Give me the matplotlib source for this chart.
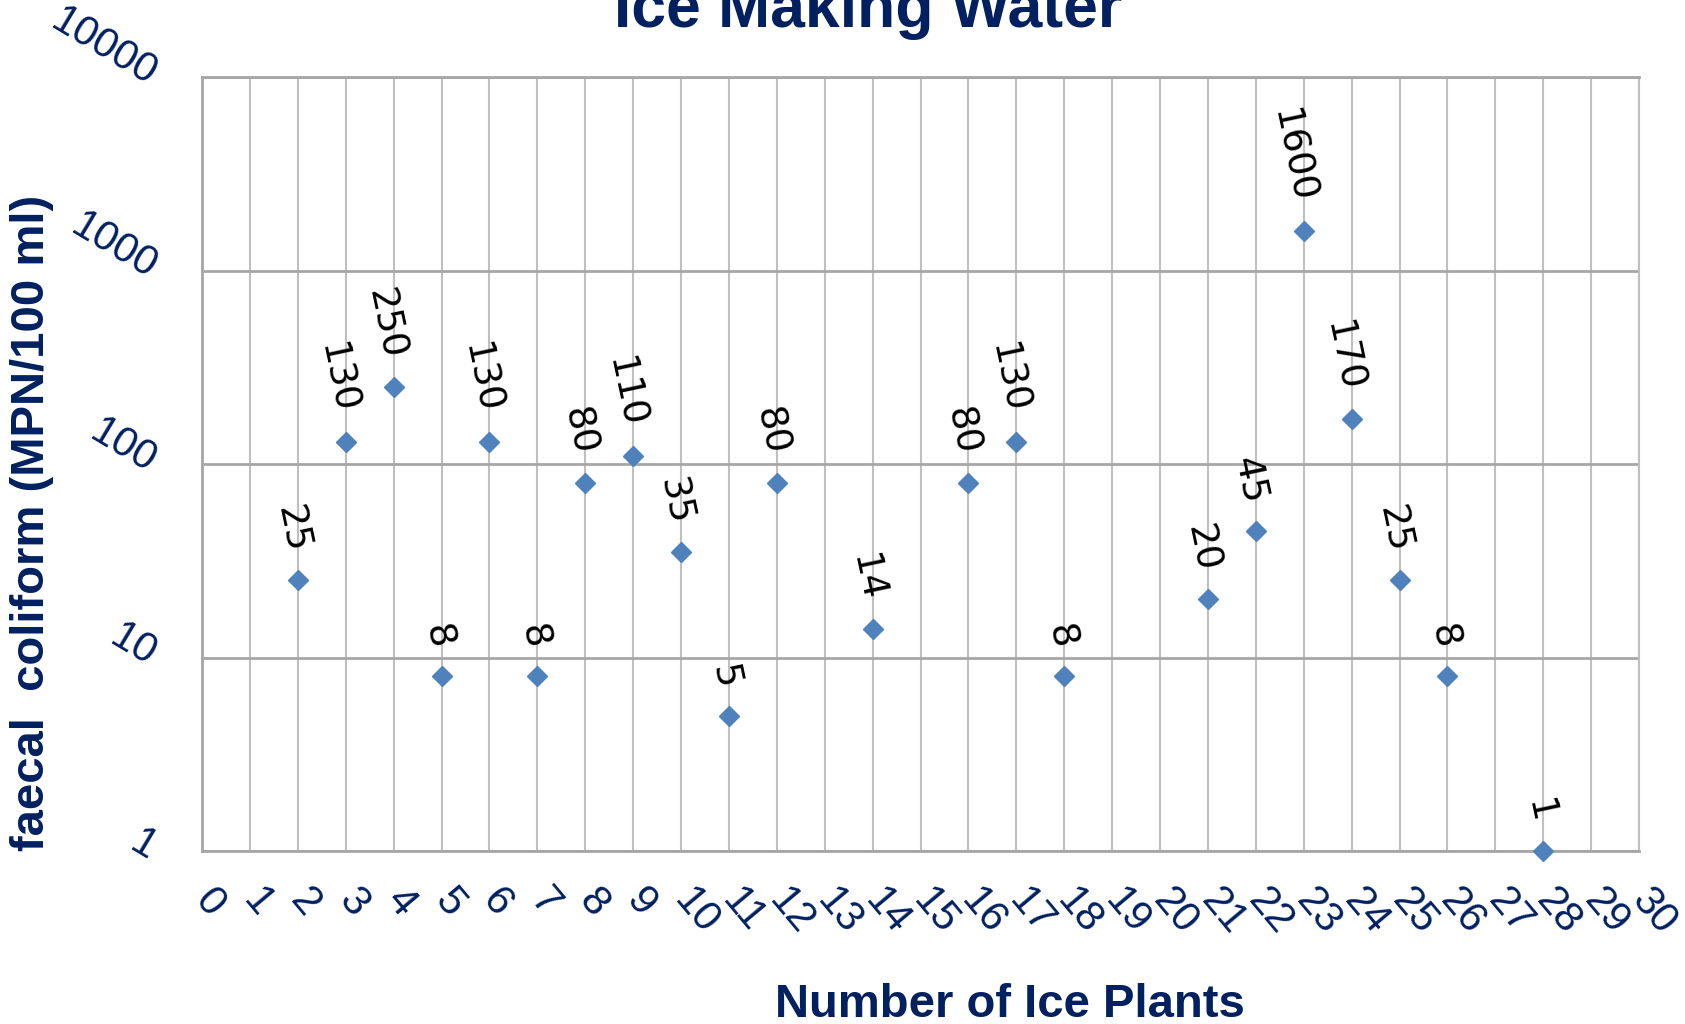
import numpy as np
import matplotlib
matplotlib.use("Agg")
import matplotlib.pyplot as plt

# data
plants = [2, 3, 4, 5, 6, 7, 8, 9, 10, 11, 12, 14, 16, 17, 18, 21, 22, 23, 24, 25, 26, 28]
coliform = [25, 130, 250, 8, 130, 8, 80, 110, 35, 5, 80, 14, 80, 130, 8, 20, 45, 1600, 170, 25, 8, 1]
y_ticks = [1, 10, 100, 1000, 10000]
x_ticks = list(range(0, 31))

navy = "#002060"
marker_col = "#4F81BD"

plt.rcParams["font.family"] = ["Liberation Sans", "DejaVu Sans"]

fig = plt.figure(figsize=(16.85, 10.24), dpi=100)
ax = fig.add_axes([202 / 1685, 1 - 851 / 1024, (1639 - 202) / 1685, (851 - 77) / 1024])

ax.plot(plants, coliform, linestyle="none", marker="D", markersize=10,
        color=marker_col, zorder=3, clip_on=False)

# value labels, nearly vertical
for x, v in zip(plants, coliform):
    ax.annotate(str(v), (x, v), xytext=(-1, 20), textcoords="offset points",
                rotation=-78, rotation_mode="anchor", ha="right", va="center",
                fontsize=27, family="DejaVu Sans", color="black", zorder=4)

ax.set_yscale("log")
ax.set_ylim(1, 10000)
ax.set_xlim(0, 30)
ax.set_yticks(y_ticks)
ax.set_yticklabels([str(t) for t in y_ticks])
ax.minorticks_off()
ax.set_xticks(x_ticks)
ax.set_xticklabels([str(t) for t in x_ticks])

ax.grid(axis="x", color="#BFBFBF", linewidth=1.5)
ax.grid(axis="y", color="#A6A6A6", linewidth=2)
ax.set_axisbelow(True)
for s in ax.spines.values():
    s.set_color("#A6A6A6")
    s.set_linewidth(2)
ax.spines["right"].set_color("#BFBFBF")
ax.spines["right"].set_linewidth(1.5)

ax.tick_params(axis="y", length=0, pad=35, labelsize=30, labelcolor=navy)
ax.tick_params(axis="x", length=0, pad=31, labelsize=30, labelcolor=navy)
for lab in ax.get_yticklabels():
    lab.set_rotation(-31)
    lab.set_rotation_mode("anchor")
    lab.set_ha("right")
    lab.set_va("center")
for lab in ax.get_xticklabels():
    lab.set_rotation(-50)
    lab.set_rotation_mode("anchor")
    lab.set_ha("left")
    lab.set_va("center")

fig.text(868 / 1685, 1 - 27 / 1024, "Ice Making Water", ha="center", va="baseline",
         fontsize=45, fontweight="bold", color=navy)
fig.text(1010 / 1685, 1 - 1017 / 1024, "Number of Ice Plants", ha="center", va="baseline",
         fontsize=34, fontweight="bold", color=navy)
fig.text(32 / 1685, 1 - 523 / 1024, "faecal  coliform (MPN/100 ml)", ha="center", va="center",
         rotation=90, fontsize=34, fontweight="bold", color=navy)

fig.savefig("out.png", dpi=100)
